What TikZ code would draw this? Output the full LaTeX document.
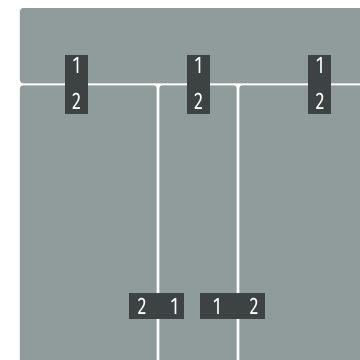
\documentclass[tikz,border=0pt]{standalone}
\usepackage{fontspec}
\usepackage{xcolor}
\usepackage{tikz}
\usetikzlibrary{positioning}
\newfontfamily\portfont[FakeStretch=0.75]{Fira Sans}
\definecolor{panelGrey}{RGB}{143,156,155}
\definecolor{portDark}{RGB}{61,67,67}

\begin{document}
\begin{tikzpicture}[x=1pt, y=-1pt,
  panel/.style={fill=panelGrey, rounded corners=3pt},
  portbox/.style={fill=portDark, inner sep=0pt, minimum width=#1},
  portnum/.style={text=white, inner sep=0pt, font=\portfont\fontsize{24}{24}\selectfont}]
  \useasboundingbox (0,0) rectangle (360,360);
  \fill[white] (0,0) rectangle (360,360);
  % panels
  \fill[panel] (20,8) rectangle (392,83.3);
  \fill[panel] (20,85.3) rectangle (156.7,392);
  \fill[panel] (159.3,85.3) rectangle (236.7,392);
  \fill[panel] (239.3,85.3) rectangle (392,392);
  % ports on the top edge
  \node[portbox=23pt, minimum height=59.5pt] (pa) at (76.5,84.5) {};
  \node[portbox=23pt, minimum height=59.5pt] (pb) at (198.5,84.5) {};
  \node[portbox=23pt, minimum height=59.5pt] (pc) at (320,84.5) {};
  \node[portnum] (pa1) at (76.5,65.5) {1};
  \node[portnum] (pa2) at (76.5,101.5) {2};
  \node[portnum] (pb1) at (198.5,65.5) {1};
  \node[portnum] (pb2) at (198.5,101.5) {2};
  \node[portnum] (pc1) at (320,65.5) {1};
  \node[portnum] (pc2) at (320,101.5) {2};
  % ports on the lower edge
  \node[portbox=55pt, minimum height=26pt] (pd) at (156.5,306) {};
  \node[portbox=65pt, minimum height=26pt] (pe) at (232.5,306) {};
  \node[portnum] (pd2) at (142,306) {2};
  \node[portnum] (pd1) at (174.5,306) {1};
  \node[portnum] (pe1) at (217,306) {1};
  \node[portnum] (pe2) at (254,306) {2};
\end{tikzpicture}
\end{document}
